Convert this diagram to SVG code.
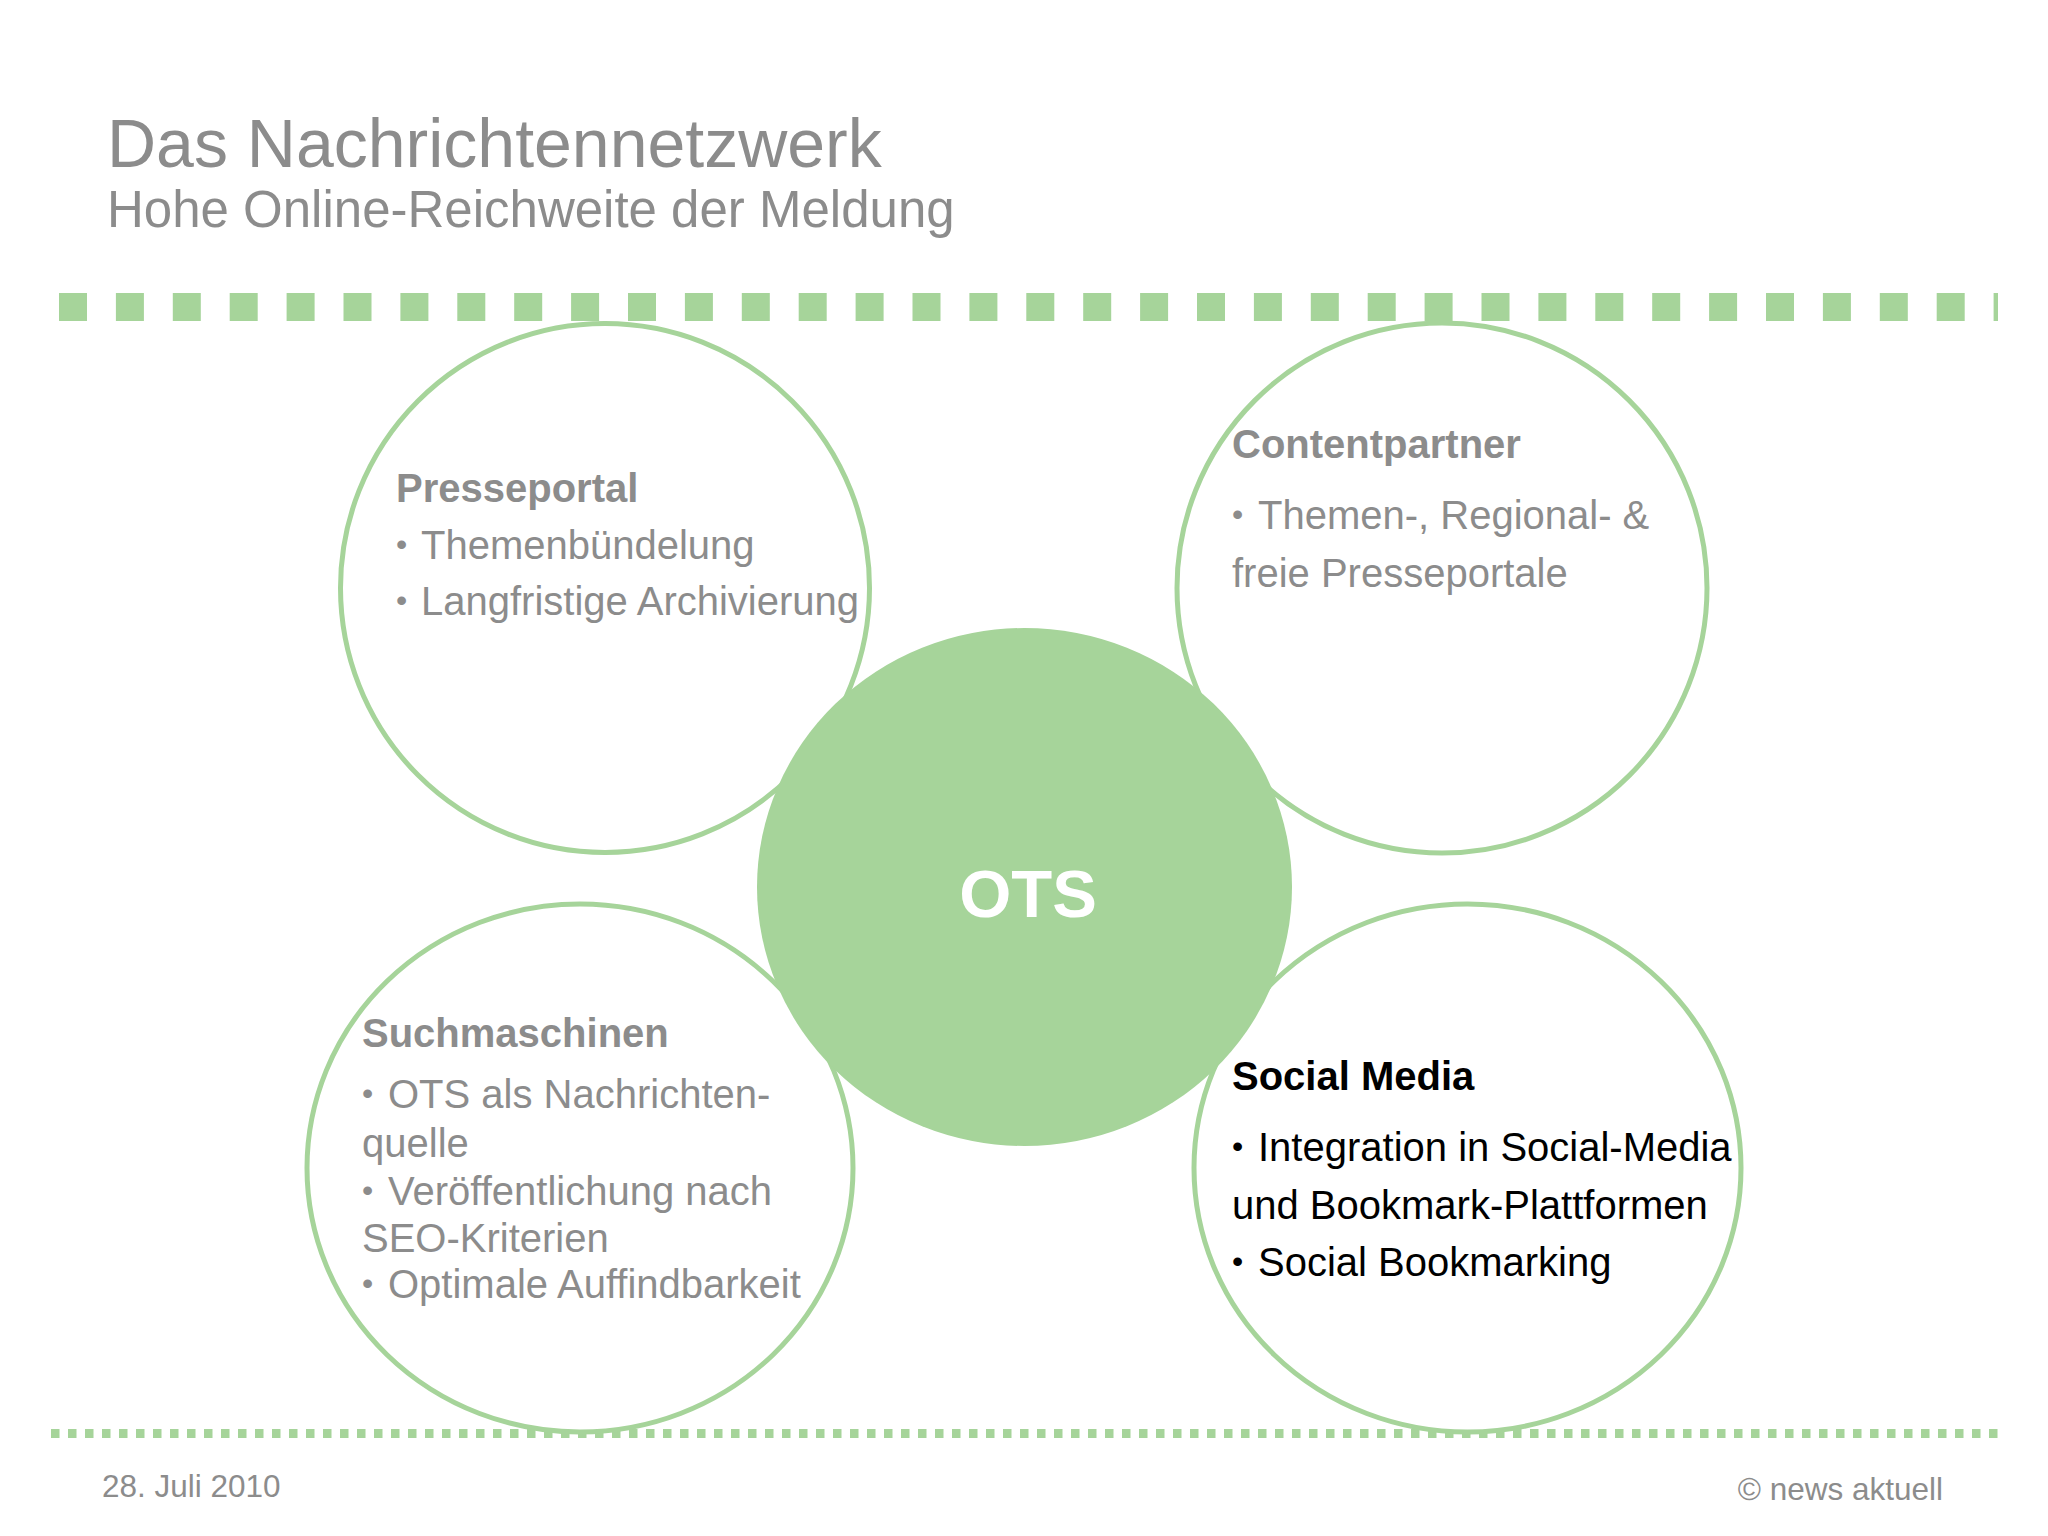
<svg xmlns="http://www.w3.org/2000/svg" width="2048" height="1536" viewBox="0 0 2048 1536">
  <style>
    .ring { fill: #ffffff; stroke: #a6d49a; stroke-width: 5; }
    .hub { fill: #a6d49a; stroke: none; }
    .t { font-family: "Liberation Sans", Arial, sans-serif; fill: #8c8c8c; }
    .h { font-family: "Liberation Sans", Arial, sans-serif; font-weight: bold; font-size: 40px; fill: #8c8c8c; }
    .b { font-family: "Liberation Sans", Arial, sans-serif; font-size: 40px; fill: #8c8c8c; }
    .bu { font-size: 32px; }
    .dark { fill: #000000; }
  </style>
  <rect x="0" y="0" width="2048" height="1536" fill="#ffffff"/>

  <g id="title">
    <text class="t" x="107" y="167" font-size="68">Das Nachrichtennetzwerk</text>
    <text class="t" x="107" y="227" font-size="51">Hohe Online-Reichweite der Meldung</text>
  </g>

  <g id="rules">
    <line x1="59" y1="307" x2="1998" y2="307" stroke="#a6d49a" stroke-width="28" stroke-dasharray="28 28.9"/>
    <line x1="51" y1="1433.5" x2="2000" y2="1433.5" stroke="#a6d49a" stroke-width="9" stroke-dasharray="8.5 8.5"/>
  </g>

  <g id="connectors"></g>

  <g id="presseportal">
    <circle class="ring" cx="605" cy="588" r="264.5"/>
    <text class="h" x="396" y="502">Presseportal</text>
    <text class="b" x="396" y="559"><tspan class="bu" dy="-4">•</tspan><tspan x="421" dy="4">Themenbündelung</tspan></text>
    <text class="b" x="396" y="615"><tspan class="bu" dy="-4">•</tspan><tspan x="421" dy="4">Langfristige Archivierung</tspan></text>
  </g>

  <g id="contentpartner">
    <circle class="ring" cx="1442" cy="588" r="265"/>
    <text class="h" x="1232" y="458">Contentpartner</text>
    <text class="b" x="1232" y="529"><tspan class="bu" dy="-4">•</tspan><tspan x="1258" dy="4">Themen-, Regional- &amp;</tspan></text>
    <text class="b" x="1232" y="587">freie Presseportale</text>
  </g>

  <g id="suchmaschinen">
    <ellipse class="ring" cx="580" cy="1168" rx="273" ry="264"/>
    <text class="h" x="362" y="1047">Suchmaschinen</text>
    <text class="b" x="362" y="1108"><tspan class="bu" dy="-4">•</tspan><tspan x="388" dy="4">OTS als Nachrichten-</tspan></text>
    <text class="b" x="362" y="1157">quelle</text>
    <text class="b" x="362" y="1205"><tspan class="bu" dy="-4">•</tspan><tspan x="388" dy="4">Veröffentlichung nach</tspan></text>
    <text class="b" x="362" y="1252">SEO-Kriterien</text>
    <text class="b" x="362" y="1298"><tspan class="bu" dy="-4">•</tspan><tspan x="388" dy="4">Optimale Auffindbarkeit</tspan></text>
  </g>

  <g id="social-media">
    <ellipse class="ring" cx="1467.5" cy="1168" rx="273.5" ry="264"/>
    <text class="h dark" x="1232" y="1090">Social Media</text>
    <text class="b dark" x="1232" y="1161"><tspan class="bu" dy="-4">•</tspan><tspan x="1258" dy="4">Integration in Social-Media</tspan></text>
    <text class="b dark" x="1232" y="1219">und Bookmark-Plattformen</text>
    <text class="b dark" x="1232" y="1276"><tspan class="bu" dy="-4">•</tspan><tspan x="1258" dy="4">Social Bookmarking</tspan></text>
  </g>

  <g id="ots">
    <ellipse class="hub" cx="1024.5" cy="887" rx="267.5" ry="259"/>
    <text x="1028" y="917" text-anchor="middle" font-family="Liberation Sans, Arial, sans-serif" font-weight="bold" font-size="67" fill="#ffffff">OTS</text>
  </g>

  <g id="footer">
    <text class="t" x="102" y="1497" font-size="31.5">28. Juli 2010</text>
    <text class="t" x="1943" y="1500" font-size="31.5" text-anchor="end">© news aktuell</text>
  </g>
</svg>
